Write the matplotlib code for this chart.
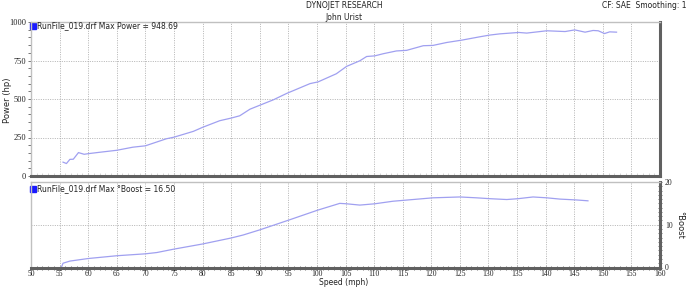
import matplotlib
matplotlib.use('Agg')
import matplotlib.pyplot as plt
from matplotlib.ticker import MultipleLocator

# power run (mph, hp)
power_speed = [55.6, 56.2, 56.8, 57.4, 58.3, 59.3, 60.0, 62.0, 65.0, 67.8,
               70.0, 73.7, 75.0, 78.4, 80.0, 83.0, 85.0, 86.5, 88.3, 92.4,
               94.7, 98.8, 100.2, 103.4, 105.2, 107.5, 108.7, 110.1, 111.6, 113.9,
               115.7, 118.6, 120.3, 122.7, 125.3, 128.5, 130.2, 132.0, 135.3, 136.7,
               140.2, 143.4, 145.1, 146.9, 148.3, 149.2, 150.3, 151.2, 152.4]
power_hp = [90, 81, 108, 109, 152, 141, 145, 154, 167, 187,
            196, 242, 252, 290, 316, 359, 376, 391, 434, 495,
            536, 600, 611, 664, 712, 748, 776, 780, 794, 812,
            816, 846, 848, 867, 882, 904, 915, 923, 932, 928,
            943, 938, 948.69, 934, 945, 943, 925, 936, 934]

# boost run (mph, psi)
boost_speed = [55.3, 55.6, 56.8, 60.0, 65.0, 70.0, 72.0, 75.0, 80.0, 85.0,
               87.1, 90.0, 95.1, 100.1, 104.0, 105.2, 107.5, 110.1, 113.3, 116.8,
               120.3, 125.0, 127.9, 130.2, 133.2, 135.2, 137.8, 140.2, 142.5, 145.4,
               147.4]
boost_psi = [0.0, 1.0, 1.5, 2.1, 2.75, 3.2, 3.5, 4.3, 5.5, 6.9,
             7.6, 8.8, 11.1, 13.4, 15.0, 14.9, 14.6, 14.9, 15.5, 15.9,
             16.3, 16.5, 16.3, 16.1, 15.9, 16.1, 16.5, 16.3, 16.0, 15.8,
             15.6]

x_ticks = list(range(50, 161, 5))

LINE = '#a0a0f0'
GRID = '#a8a8a8'
LIGHT = '#c0c0c0'
DARK = '#606060'
TXT = '#222222'

plt.rcParams['font.family'] = ['DejaVu Sans']

fig = plt.figure(figsize=(6.88, 2.87), dpi=100)
fig.patch.set_facecolor('white')

ax_p = fig.add_axes([31 / 688, 1 - 176 / 287, 629 / 688, 154 / 287])
ax_b = fig.add_axes([31 / 688, 1 - 267.5 / 287, 629 / 688, 85.5 / 287])


def frame(ax):
    for s in ('left', 'top'):
        ax.spines[s].set_color(LIGHT)
        ax.spines[s].set_linewidth(1.0)
    for s in ('bottom', 'right'):
        ax.spines[s].set_color(DARK)
        ax.spines[s].set_linewidth(2.2)
    ax.set_xlim(50, 160)
    ax.set_xticks(x_ticks)
    ax.xaxis.set_minor_locator(MultipleLocator(1))
    ax.grid(True, which='major', color=GRID, linestyle=(0, (1.2, 1.6)), linewidth=0.6)
    ax.set_axisbelow(True)


# power panel
frame(ax_p)
ax_p.plot(power_speed, power_hp, color=LINE, lw=0.9)
ax_p.set_ylim(0, 1000)
ax_p.set_yticks([0, 250, 500, 750, 1000])
ax_p.yaxis.set_minor_locator(MultipleLocator(50))
ax_p.tick_params(axis='x', which='both', labelbottom=False, direction='in', length=2, color='#cccccc')
ax_p.tick_params(axis='y', which='both', direction='out', length=2.5, color=DARK, width=0.6,
                 labelsize=6, labelcolor=TXT, pad=1)
for lab in ax_p.get_yticklabels():
    lab.set_family('Liberation Serif')
ax_p.plot([0.003], [0.975], marker='s', ms=4, color='#1a1aff', transform=ax_p.transAxes, clip_on=False)
ax_p.text(0.009, 0.975, 'RunFile_019.drf Max Power = 948.69', transform=ax_p.transAxes,
          fontsize=5.5, color=TXT, va='center', ha='left')

# boost panel
frame(ax_b)
ax_b.plot(boost_speed, boost_psi, color=LINE, lw=0.9)
ax_b.set_ylim(0, 20)
ax_b.set_yticks([0, 10, 20])
ax_b.yaxis.set_minor_locator(MultipleLocator(1))
ax_b.yaxis.tick_right()
ax_b.tick_params(axis='x', which='both', direction='inout', length=3, color=DARK, width=0.6,
                 labelsize=5.5, labelcolor=TXT, pad=0)
ax_b.tick_params(axis='y', which='both', direction='inout', length=3, color=DARK, width=0.6,
                 labelsize=5.5, labelcolor=TXT, pad=2)
for lab in ax_b.get_xticklabels() + ax_b.get_yticklabels():
    lab.set_family('Liberation Serif')
ax_b.plot([0.003], [0.92], marker='s', ms=4, color='#1a1aff', transform=ax_b.transAxes, clip_on=False)
ax_b.text(0.009, 0.92, 'RunFile_019.drf Max °Boost = 16.50', transform=ax_b.transAxes,
          fontsize=5.5, color=TXT, va='center', ha='left')

# axis titles
fig.text(8 / 688, 1 - 100 / 287, 'Power (hp)', fontsize=6, color=TXT, rotation=90, ha='center', va='center')
fig.text(344 / 688, 1 - 287 / 287, 'Speed (mph)', fontsize=5.5, color=TXT, ha='center', va='bottom')
fig.text(680 / 688, 1 - 225 / 287, '°Boost', fontsize=6, color=TXT, rotation=270, ha='center', va='center')

# header
fig.text(344 / 688, 1 - 6 / 287, 'DYNOJET RESEARCH', fontsize=5.5, color=TXT, ha='center', va='center')
fig.text(344 / 688, 1 - 17 / 287, 'John Urist', fontsize=5.5, color=TXT, ha='center', va='center')
fig.text(686 / 688, 1 - 6 / 287, 'CF: SAE  Smoothing: 1', fontsize=5.5, color=TXT, ha='right', va='center')

fig.savefig('out.png', dpi=100, facecolor='white')
